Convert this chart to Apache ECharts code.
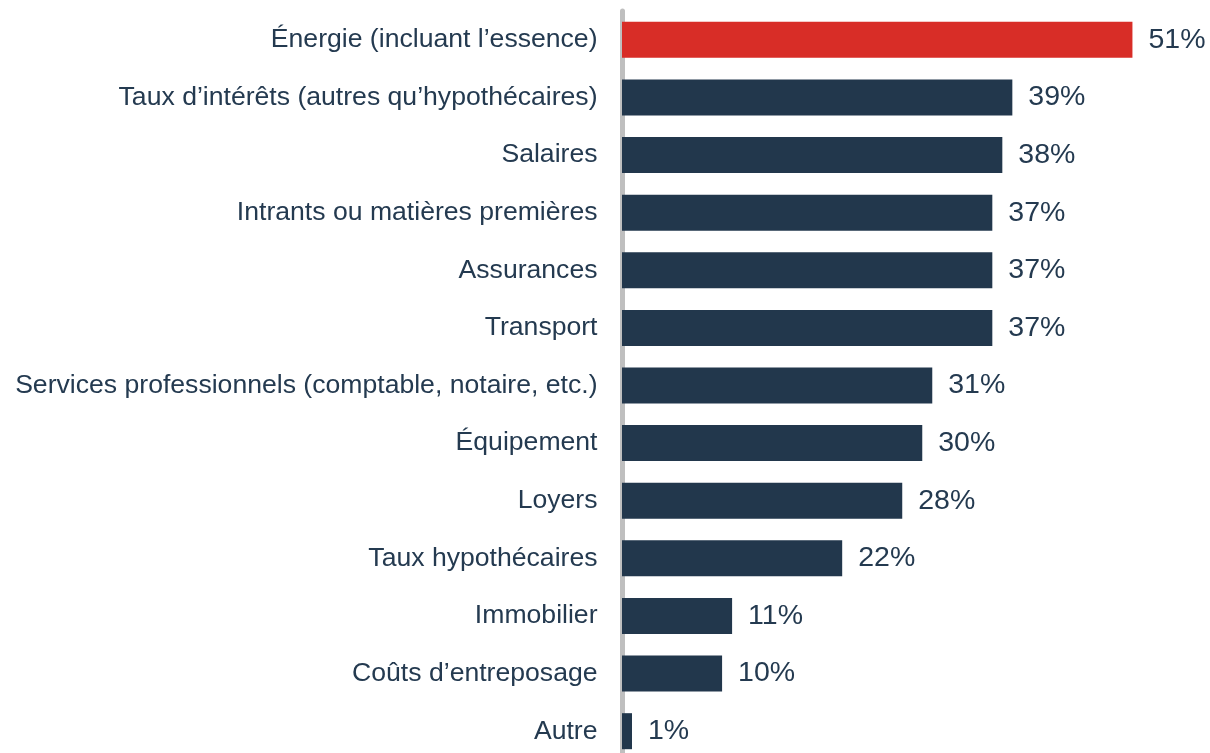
<!DOCTYPE html>
<html>
<head>
<meta charset="utf-8">
<script src="https://cdn.jsdelivr.net/npm/echarts@6/dist/echarts.min.js"></script>
<style>
  html, body { margin: 0; padding: 0; background: #fff; overflow: hidden; }
  /* the picture is cut at the bottom: the last row runs past 753px */
  #chart { width: 1210px; height: 760px; }
</style>
</head>
<body>
<div id="chart"></div>
<script>
const categories = [
  "Énergie (incluant l’essence)",
  "Taux d’intérêts (autres qu’hypothécaires)",
  "Salaires",
  "Intrants ou matières premières",
  "Assurances",
  "Transport",
  "Services professionnels (comptable, notaire, etc.)",
  "Équipement",
  "Loyers",
  "Taux hypothécaires",
  "Immobilier",
  "Coûts d’entreposage",
  "Autre"
];
const values = [51, 39, 38, 37, 37, 37, 31, 30, 28, 22, 11, 10, 1];

const RED = "#D82D27";
const NAVY = "#22374C";
const TEXT = "#243A50";
const FONT = "Arial, 'Liberation Sans', sans-serif";

const chart = echarts.init(document.getElementById("chart"));

const option = {
  animation: false,
  grid: {
    left: 622,
    top: 11,
    right: 7.5,
    bottom: 0
  },
  xAxis: {
    type: "value",
    min: 0,
    max: 58,
    show: false
  },
  yAxis: {
    type: "category",
    inverse: true,
    data: categories,
    offset: 2.5,
    axisTick: { show: false },
    axisLine: {
      show: true,
      lineStyle: { color: "#BFBFBF", width: 5 }
    },
    axisLabel: {
      margin: 22,
      color: TEXT,
      fontSize: 26.6,
      fontFamily: FONT
    }
  },
  series: [
    {
      type: "bar",
      data: values.map((v, i) => ({
        value: v,
        itemStyle: { color: i === 0 ? RED : NAVY }
      })),
      barCategoryGap: "37.5%",
      label: {
        show: true,
        position: "right",
        distance: 16,
        formatter: "{c}%",
        color: TEXT,
        fontSize: 28.5,
        fontFamily: FONT
      }
    }
  ]
};
chart.setOption(option);
</script>
</body>
</html>
